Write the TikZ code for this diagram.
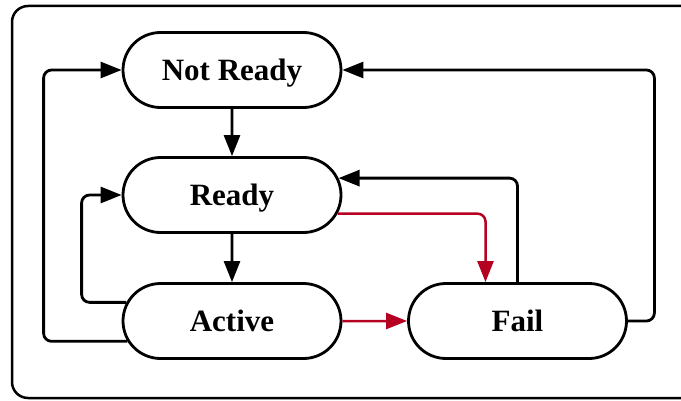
\documentclass[tikz,border=0pt]{standalone}
\usepackage{fontspec}
\setmainfont{Liberation Serif}
\usetikzlibrary{arrows.meta,shapes.misc,calc}
\definecolor{failred}{RGB}{181,0,34}
\begin{document}
\begin{tikzpicture}[x=1pt,y=1pt,
  state/.style={rounded rectangle, draw, line width=2.8pt, minimum width=218pt,
    minimum height=75pt, inner sep=0pt, text height=21pt, text depth=0pt,
    font=\bfseries\fontsize{31}{31}\selectfont},
  link/.style={line width=2.8pt, rounded corners=8pt,
    -{Triangle[length=21pt,width=16pt]}},
  faillink/.style={link, color=failred, line width=2.5pt}]
\useasboundingbox (0,0) rectangle (681,400);
% outer frame
\draw[line width=2.5pt, rounded corners=16pt] (12,2) rectangle (705,394);
% states
\node[state] (NR) at (232,330) {Not Ready};
\node[state] (R)  at (232,205) {Ready};
\node[state] (A)  at (232,79)  {Active};
\node[state] (F)  at (517.5,79) {Fail};
% transitions
\draw[link] (NR) -- (R);
\draw[link] (R) -- (A);
\draw[faillink] (A) -- (F);
\draw[faillink] (R.-10.8) -| ($(F.north)+(-32,0)$);
\draw[link] (F.north) |- (R.9.8);
\draw[link] (A.170.2) -| ($(R.west)+(-40,0)$) -- (R.west);
\draw[link] (A.191.4) -| ($(NR.west)+(-78,0)$) -- (NR.west);
\draw[link] (F.east) -| ($(NR.east)+(312,0)$) -- (NR.east);
\end{tikzpicture}
\end{document}
